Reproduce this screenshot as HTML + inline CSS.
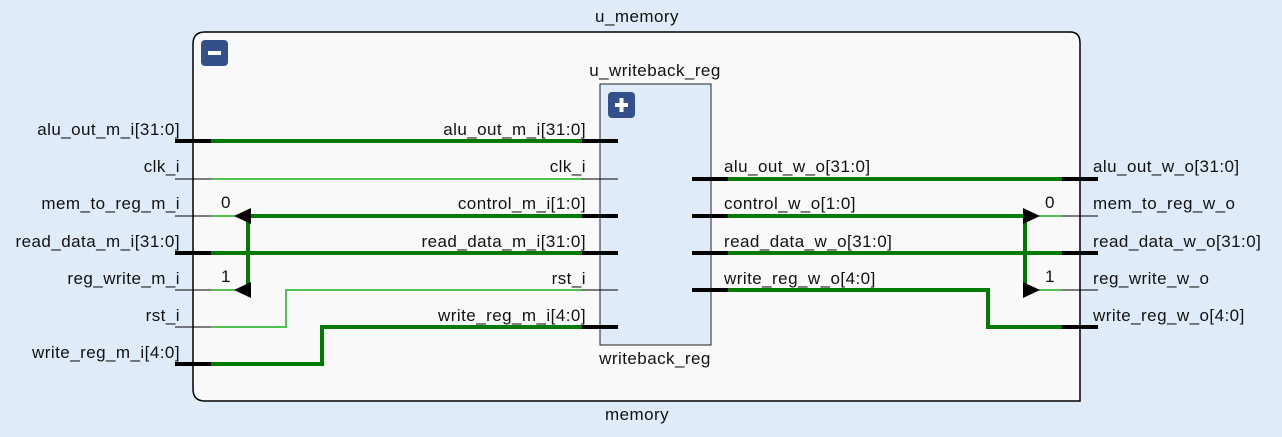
<!DOCTYPE html>
<html><head><meta charset="utf-8"><style>
html,body{margin:0;padding:0;background:#dfebf9;}
svg{display:block;}
text{font-family:"Liberation Sans",sans-serif;font-size:17px;letter-spacing:0.45px;fill:#111;}
</style></head><body>
<svg width="1282" height="437" viewBox="0 0 1282 437" xmlns="http://www.w3.org/2000/svg">
<rect x="0" y="0" width="1282" height="437" fill="#dfebf9"/>
<path d="M205,32 H1070 Q1080,32 1080,43 V401 H205 Q193,401 193,389 V44 Q193,32 205,32 Z" fill="#f9f9f9" stroke="#000" stroke-width="1.5"/>
<text x="637" y="22" text-anchor="middle">u_memory</text>
<text x="637" y="420" text-anchor="middle">memory</text>
<rect x="201" y="40" width="27" height="26" rx="4" fill="#34508a"/>
<rect x="208" y="51" width="13" height="4" fill="#fff"/>
<rect x="600" y="84" width="111" height="261" fill="#dfebf9" stroke="#222" stroke-width="1"/>
<text x="655" y="76" text-anchor="middle">u_writeback_reg</text>
<text x="655" y="364" text-anchor="middle">writeback_reg</text>
<rect x="608" y="92" width="27" height="26" rx="4" fill="#34508a"/>
<rect x="615" y="103" width="13" height="4" fill="#fff"/>
<rect x="619.5" y="98" width="4" height="14" fill="#fff"/>
<g fill="none" stroke="#007a00" stroke-width="4">
<path d="M211,141 H583"/>
<path d="M240,216 H583"/>
<path d="M248,216 V290"/>
<path d="M211,253 H583"/>
<path d="M211,364 H322 V327 H583"/>
<path d="M728,179 H1062"/>
<path d="M728,216 H1030"/>
<path d="M1025,216 V290"/>
<path d="M728,253 H1062"/>
<path d="M728,290 H988 V327 H1062"/>
</g>
<g fill="none" stroke="#1cb01c" stroke-width="1.5">
<path d="M211,179 H583"/>
<path d="M211,216 H240"/>
<path d="M211,290 H240"/>
<path d="M211,327 H286 V290 H583"/>
<path d="M1037,216 H1062"/>
<path d="M1037,290 H1062"/>
</g>
<polygon points="234,216 251,208 251,224" fill="#000"/>
<polygon points="234,290 251,282 251,298" fill="#000"/>
<polygon points="1040,216 1023,208 1023,224" fill="#000"/>
<polygon points="1040,290 1023,282 1023,298" fill="#000"/>
<text x="226" y="208" text-anchor="middle">0</text>
<text x="226" y="282" text-anchor="middle">1</text>
<text x="1050" y="208" text-anchor="middle">0</text>
<text x="1050" y="282" text-anchor="middle">1</text>
<g stroke="#000" stroke-width="4">
<path d="M175,141 H211"/><path d="M175,253 H211"/><path d="M175,364 H211"/>
<path d="M582,141 H618"/><path d="M582,216 H618"/><path d="M582,253 H618"/><path d="M582,327 H618"/>
<path d="M692,179 H728"/><path d="M692,216 H728"/><path d="M692,253 H728"/><path d="M692,290 H728"/>
<path d="M1062,179 H1098"/><path d="M1062,253 H1098"/><path d="M1062,327 H1098"/>
</g>
<g stroke="#000" stroke-width="1">
<path d="M175,179 H211"/><path d="M175,216 H211"/><path d="M175,290 H211"/><path d="M175,327 H211"/>
<path d="M582,179 H618"/><path d="M582,290 H618"/>
<path d="M1062,216 H1098"/><path d="M1062,290 H1098"/>
</g>
<g text-anchor="end">
<text x="180" y="135">alu_out_m_i[31:0]</text>
<text x="180" y="172">clk_i</text>
<text x="180" y="209">mem_to_reg_m_i</text>
<text x="180" y="247">read_data_m_i[31:0]</text>
<text x="180" y="284">reg_write_m_i</text>
<text x="180" y="321">rst_i</text>
<text x="180" y="358">write_reg_m_i[4:0]</text>
<text x="586" y="135">alu_out_m_i[31:0]</text>
<text x="586" y="172">clk_i</text>
<text x="586" y="209">control_m_i[1:0]</text>
<text x="586" y="247">read_data_m_i[31:0]</text>
<text x="586" y="284">rst_i</text>
<text x="586" y="321">write_reg_m_i[4:0]</text>
</g>
<text x="724" y="172">alu_out_w_o[31:0]</text>
<text x="724" y="209">control_w_o[1:0]</text>
<text x="724" y="247">read_data_w_o[31:0]</text>
<text x="724" y="284">write_reg_w_o[4:0]</text>
<text x="1093" y="172">alu_out_w_o[31:0]</text>
<text x="1093" y="209">mem_to_reg_w_o</text>
<text x="1093" y="247">read_data_w_o[31:0]</text>
<text x="1093" y="284">reg_write_w_o</text>
<text x="1093" y="321">write_reg_w_o[4:0]</text>
</svg>
</body></html>
